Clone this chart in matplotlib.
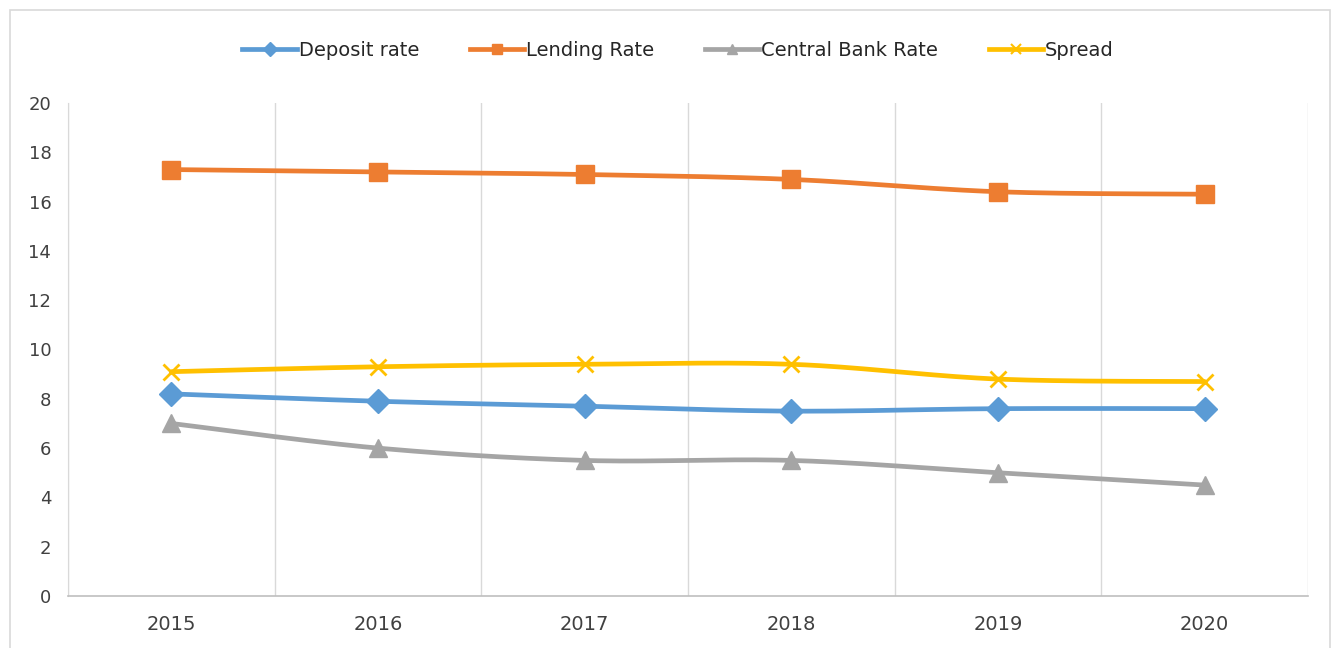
import numpy as np
import matplotlib.pyplot as plt
from matplotlib.patches import Rectangle

years = ['2015', '2016', '2017', '2018', '2019', '2020']
deposit = [8.2, 7.9, 7.7, 7.5, 7.6, 7.6]
lending = [17.3, 17.2, 17.1, 16.9, 16.4, 16.3]
central = [7.0, 6.0, 5.5, 5.5, 5.0, 4.5]
spread = [9.1, 9.3, 9.4, 9.4, 8.8, 8.7]


def smooth(x, y, n=30):
    # Excel-like smoothed line: cubic Bezier through the points, Catmull-Rom controls
    x = np.asarray(x, float)
    y = np.asarray(y, float)
    px = np.concatenate([[x[0]], x, [x[-1]]])
    py = np.concatenate([[y[0]], y, [y[-1]]])
    xs, ys = [], []
    t = np.linspace(0, 1, n)
    for i in range(1, len(px) - 2):
        p0 = np.array([px[i], py[i]])
        p3 = np.array([px[i + 1], py[i + 1]])
        c1 = p0 + (p3 - np.array([px[i - 1], py[i - 1]])) / 6
        c2 = p3 - (np.array([px[i + 2], py[i + 2]]) - p0) / 6
        b = (np.outer((1 - t) ** 3, p0) + np.outer(3 * (1 - t) ** 2 * t, c1)
             + np.outer(3 * (1 - t) * t ** 2, c2) + np.outer(t ** 3, p3))
        xs.extend(b[:, 0])
        ys.extend(b[:, 1])
    return xs, ys


plt.rcParams['font.family'] = ['DejaVu Sans']

fig = plt.figure(figsize=(13.41, 6.48), dpi=100)
ax = fig.add_axes([68 / 1341, 1 - 596 / 648, 1240 / 1341, 493 / 648])

fig.patches.append(Rectangle((10 / 1341, -0.05), 1320 / 1341, 1.05 - 10 / 648,
                             transform=fig.transFigure, fill=False,
                             edgecolor='#d9d9d9', lw=1.2))

series = [
    ('Deposit rate', deposit, '#5B9BD5', 'D', 12),
    ('Lending Rate', lending, '#ED7D31', 's', 13),
    ('Central Bank Rate', central, '#A5A5A5', '^', 13),
    ('Spread', spread, '#FFC000', 'x', 12),
]
xpos = np.arange(len(years))
handles = []
for name, vals, col, mk, ms in series:
    sx, sy = smooth(xpos, vals)
    ax.plot(sx, sy, color=col, lw=3.4, solid_capstyle='round', zorder=3)
    ax.plot(xpos, vals, linestyle='none', marker=mk, markersize=ms,
            color=col, markeredgewidth=2 if mk == 'x' else 1, zorder=4)
    h, = ax.plot([], [], color=col, lw=3.4, marker=mk,
                 markersize=ms * 0.6, markeredgewidth=1.5 if mk == 'x' else 1)
    handles.append(h)

ax.set_xlim(-0.5, len(years) - 0.5)
ax.set_ylim(0, 20)
ax.set_yticks(range(0, 21, 2))
ax.set_xticks(xpos)
ax.set_xticklabels(years)
ax.set_xticks(np.arange(-0.5, len(years), 1), minor=True)
ax.grid(True, which='minor', axis='x', color='#d9d9d9', lw=1)
ax.tick_params(which='both', length=0)
ax.tick_params(axis='y', labelsize=13, colors='#404040', pad=12)
ax.tick_params(axis='x', labelsize=14, colors='#404040', pad=14)
for s in ['top', 'right']:
    ax.spines[s].set_visible(False)
ax.spines['left'].set_color('#d9d9d9')
ax.spines['bottom'].set_color('#bfbfbf')
ax.spines['bottom'].set_linewidth(1.2)

fig.legend(handles, [s[0] for s in series], loc='center',
           bbox_to_anchor=(678 / 1341, 1 - 50 / 648), ncol=4, frameon=False,
           fontsize=14, handlelength=2.8, handletextpad=0.1, columnspacing=2.6,
           labelcolor='#262626')

fig.savefig('out.png', dpi=100)
